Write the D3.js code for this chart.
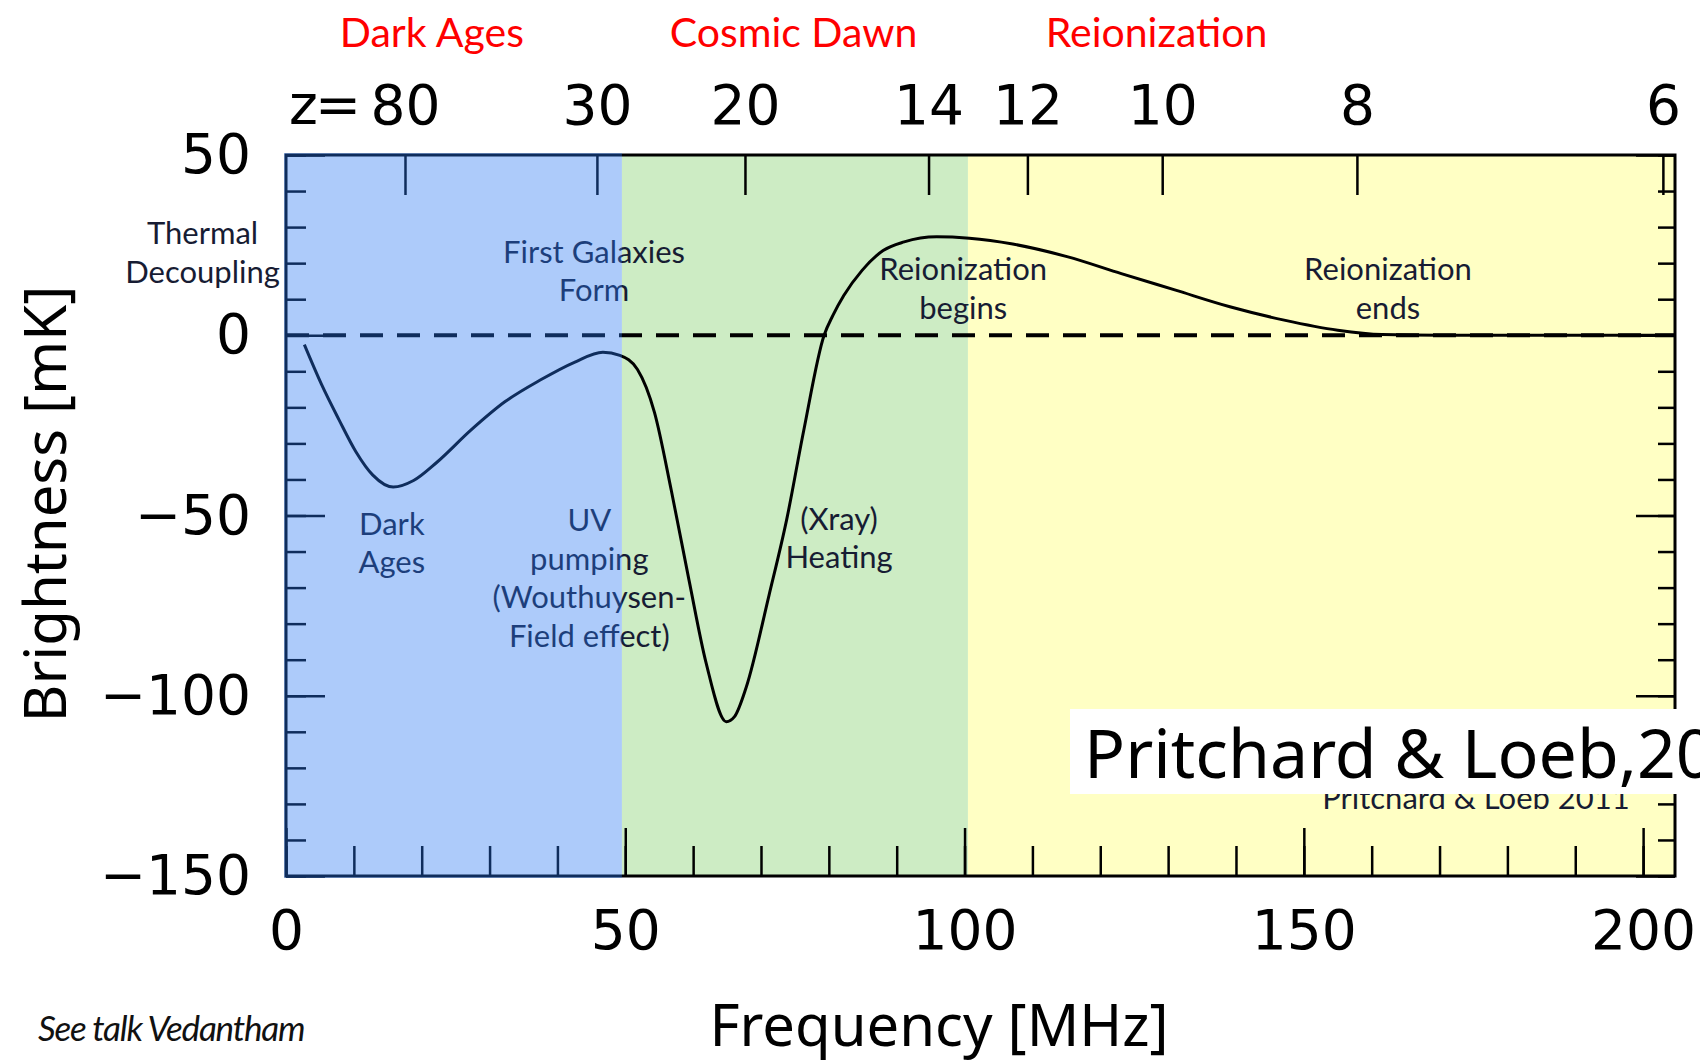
<!DOCTYPE html>
<html>
<head>
<meta charset="utf-8">
<script src="https://cdn.jsdelivr.net/npm/d3@7"></script>
<style>
  body { margin: 0; background: #fff; }
  svg { display: block; }
</style>
</head>
<body>
<script>
const freqMHz = [2.7, 5.2, 7.8, 10.3, 12.8, 15.8, 18.8, 22.2, 27.2, 32.3, 37.4, 42.5, 46.7, 49.2,
  51.8, 54.3, 56.8, 59.4, 61.9, 64.9, 66.1, 67.8, 71.2, 73.8, 76.3, 79.3, 80.6, 82.2, 84.9, 88.0,
  91.1, 95.9, 100.7, 107.1, 115.1, 123.1, 131.1, 139.1, 147.1, 155.0, 161.5, 170, 185, 204.7];
const brightness = [-2.6, -13.5, -23.4, -32.3, -38.8, -42.1, -40.3, -35.3, -26.4, -18.4, -12.5, -7.5, -4.7, -5.6,
  -9.5, -21.4, -43.2, -68, -90.8, -107.2, -105.8, -97.8, -72, -51, -26.4, 0, 5.5, 11, 18, 23.5,
  25.9, 27.3, 26.9, 25.3, 21.8, 17.1, 12.5, 7.9, 4.2, 1.4, 0.2, 0, 0, 0];

const redshiftTicks = [80, 30, 20, 14, 12, 10, 8, 6];
const freqMajorTicks = [0, 50, 100, 150, 200];
const brightMajorTicks = [50, 0, -50, -100, -150];

const eras = ["Dark Ages", "Cosmic Dawn", "Reionization"];
const eraBands = [[0, 49.5], [49.5, 100.5], [100.5, 204.7]];
const eraLabelFreq = [21.5, 74.8, 128.3];

const notes = [
  { f: -12.3, b: 28.3, lines: ["Thermal", "Decoupling"] },
  { f: 45.4, b: 23.1, lines: ["First Galaxies", "Form"] },
  { f: 99.8, b: 18.3, lines: ["Reionization", "begins"] },
  { f: 162.4, b: 18.3, lines: ["Reionization", "ends"] },
  { f: 15.6, b: -52.3, lines: ["Dark", "Ages"] },
  { f: 44.7, b: -51.3, lines: ["UV", "pumping", "(Wouthuysen-", "Field effect)"] },
  { f: 81.5, b: -50.9, lines: ["(Xray)", "Heating"] }
];

const w = 1700;
const h = 1062;
const plotL = 286, plotR = 1675, plotT = 155, plotB = 876;

const x = d3.scaleLinear().domain([0, 204.7]).range([plotL, plotR]);
const y = d3.scaleLinear().domain([-150, 50]).range([plotB, plotT]);
const zToMHz = (z) => 1420.4 / (1 + z);

const bandColors = ["none", "#cdecc4", "#ffffc4"];
const tickFont = "'DejaVu Sans', sans-serif";
const noteFont = "Lato, 'Noto Sans', sans-serif";

const svg = d3.select("body").append("svg")
  .attr("width", w)
  .attr("height", h);

// green and yellow sit under the curve
svg.selectAll("rect.band")
  .data(eraBands.slice(1))
  .enter()
  .append("rect")
  .attr("class", "band")
  .attr("x", (d) => x(d[0]))
  .attr("y", plotT)
  .attr("width", (d) => x(d[1]) - x(d[0]))
  .attr("height", plotB - plotT)
  .attr("fill", (d, i) => bandColors[i + 1]);

svg.append("line")
  .attr("x1", plotL).attr("x2", plotR)
  .attr("y1", y(0)).attr("y2", y(0))
  .attr("stroke", "#000")
  .attr("stroke-width", 4)
  .attr("stroke-dasharray", "23,14");

const line = d3.line()
  .x((d, i) => x(freqMHz[i]))
  .y((d) => y(d))
  .curve(d3.curveMonotoneX);

svg.append("path")
  .datum(brightness)
  .attr("d", line)
  .attr("fill", "none")
  .attr("stroke", "#000")
  .attr("stroke-width", 3);

function styleAxis(g, size) {
  g.select(".domain").remove();
  g.selectAll(".tick line").attr("stroke", "#000").attr("stroke-width", 2.5);
  g.selectAll(".tick text")
    .attr("fill", "#000")
    .style("font-family", tickFont)
    .style("font-size", size + "px");
}

const minorX = d3.range(0, 201, 10);
const minorY = d3.range(-150, 51, 10);

svg.append("g")
  .attr("transform", "translate(0," + plotB + ")")
  .call(d3.axisBottom(x).tickValues(minorX).tickSize(-30).tickFormat(""))
  .call((g) => styleAxis(g, 55));
svg.append("g")
  .attr("id", "x-axis")
  .attr("transform", "translate(0," + plotB + ")")
  .call(d3.axisBottom(x).tickValues(freqMajorTicks).tickSize(-48).tickPadding(34).tickFormat(d3.format("d")))
  .call((g) => styleAxis(g, 55));

svg.append("g")
  .attr("id", "z-axis")
  .attr("transform", "translate(0," + plotT + ")")
  .call(d3.axisTop(x).tickValues(redshiftTicks.map(zToMHz)).tickSize(-40).tickPadding(31)
    .tickFormat((d, i) => redshiftTicks[i]))
  .call((g) => styleAxis(g, 55));

svg.append("text")
  .attr("x", 358)
  .attr("y", plotT - 31)
  .attr("text-anchor", "end")
  .style("font-family", tickFont)
  .style("font-size", "55px")
  .style("letter-spacing", "-3px")
  .text("z=");

const minus = (d) => (d < 0 ? "\u2212" + Math.abs(d) : String(d));

svg.append("g")
  .attr("transform", "translate(" + plotL + ",0)")
  .call(d3.axisLeft(y).tickValues(minorY).tickSize(-20).tickFormat(""))
  .call((g) => styleAxis(g, 55));
svg.append("g")
  .attr("id", "y-axis")
  .attr("transform", "translate(" + plotL + ",0)")
  .call(d3.axisLeft(y).tickValues(brightMajorTicks).tickSize(-39).tickPadding(35).tickFormat(minus))
  .call((g) => styleAxis(g, 55));

svg.append("g")
  .attr("transform", "translate(" + plotR + ",0)")
  .call(d3.axisLeft(y).tickValues(minorY).tickSize(17).tickFormat(""))
  .call((g) => styleAxis(g, 55));
svg.append("g")
  .attr("transform", "translate(" + plotR + ",0)")
  .call(d3.axisLeft(y).tickValues(brightMajorTicks).tickSize(39).tickFormat(""))
  .call((g) => styleAxis(g, 55));

svg.append("rect")
  .attr("x", plotL).attr("y", plotT)
  .attr("width", plotR - plotL).attr("height", plotB - plotT)
  .attr("fill", "none")
  .attr("stroke", "#000")
  .attr("stroke-width", 3);

// annotations
notes.forEach((n) => {
  const t = svg.append("text")
    .attr("text-anchor", "middle")
    .attr("fill", "#171c33")
    .style("font-family", noteFont)
    .style("font-size", "31px");
  n.lines.forEach((s, i) => {
    t.append("tspan")
      .attr("x", x(n.f))
      .attr("y", y(n.b) + i * 38.5 + 11)
      .text(s);
  });
});

svg.append("text")
  .attr("x", 1476).attr("y", 809)
  .attr("text-anchor", "middle")
  .attr("fill", "#171c33")
  .style("font-family", noteFont)
  .style("font-size", "31px")
  .text("Pritchard & Loeb 2011");

// blue band is a see-through wash over the curve and frame
svg.append("rect")
  .attr("x", plotL - 2)
  .attr("y", plotT - 2)
  .attr("width", x(eraBands[0][1]) - plotL + 2)
  .attr("height", plotB - plotT + 4)
  .attr("fill", "rgb(40,118,242)")
  .attr("fill-opacity", 0.38);

svg.selectAll("text.era")
  .data(eras)
  .enter()
  .append("text")
  .attr("class", "era")
  .attr("x", (d, i) => x(eraLabelFreq[i]))
  .attr("y", 47)
  .attr("text-anchor", "middle")
  .attr("fill", "#ff0000")
  .style("font-family", noteFont)
  .style("font-size", "41px")
  .text((d) => d);

svg.append("text")
  .attr("transform", "translate(66,504) rotate(-90)")
  .attr("text-anchor", "middle")
  .style("font-family", "'Noto Sans', sans-serif")
  .style("font-size", "58px")
  .text("Brightness [mK]");

svg.append("text")
  .attr("x", 939).attr("y", 1046)
  .attr("text-anchor", "middle")
  .style("font-family", "'Noto Sans', sans-serif")
  .style("font-size", "58px")
  .text("Frequency [MHz]");

svg.append("text")
  .attr("x", 38).attr("y", 1041)
  .attr("fill", "#111")
  .style("font-family", noteFont)
  .style("font-style", "italic")
  .style("font-size", "35px")
  .style("letter-spacing", "-1.2px")
  .text("See talk Vedantham");

// pasted citation box
svg.append("rect")
  .attr("x", 1070).attr("y", 709)
  .attr("width", 640).attr("height", 85)
  .attr("fill", "#fff");

svg.append("text")
  .attr("x", 1084).attr("y", 778)
  .style("font-family", "'Noto Sans', sans-serif")
  .style("font-size", "68px")
  .text("Pritchard & Loeb,2011");
</script>
</body>
</html>
